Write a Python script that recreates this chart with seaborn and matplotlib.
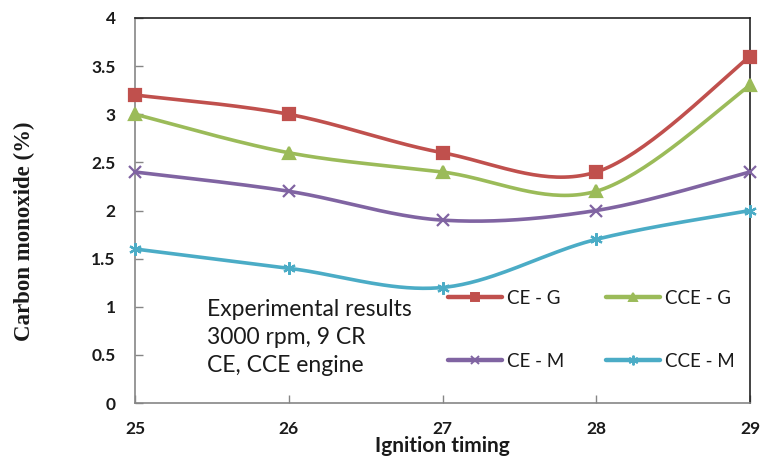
import numpy as np
import pandas as pd
import matplotlib
matplotlib.use("Agg")
import matplotlib.pyplot as plt
from matplotlib.lines import Line2D
import seaborn as sns

# Data
timing = [25, 26, 27, 28, 29]
ce_g = [3.2, 3.0, 2.6, 2.4, 3.6]
cce_g = [3.0, 2.6, 2.4, 2.2, 3.3]
ce_m = [2.4, 2.2, 1.9, 2.0, 2.4]
cce_m = [1.6, 1.4, 1.2, 1.7, 2.0]
series_names = ["CE - G", "CCE - G", "CE - M", "CCE - M"]
series_values = [ce_g, cce_g, ce_m, cce_m]
y_ticks = [0, 0.5, 1, 1.5, 2, 2.5, 3, 3.5, 4]
y_tick_labels = ["0", "0.5", "1", "1.5", "2", "2.5", "3", "3.5", "4"]

colors = ["#C0504D", "#9BBB59", "#8064A2", "#4BACC6"]
markers = ["s", "^", "x", (6, 2, 0)]
msizes = [8, 8, 8, 9]


def smooth(xs, ys, n=40):
    """Catmull-Rom style smoothing through every point (Bezier, 1/6 tangents)."""
    xs = np.asarray(xs, float)
    ys = np.asarray(ys, float)
    px = np.concatenate([[xs[0]], xs, [xs[-1]]])
    py = np.concatenate([[ys[0]], ys, [ys[-1]]])
    ox, oy = [], []
    t = np.linspace(0, 1, n)
    for i in range(1, len(px) - 2):
        p0 = np.array([px[i], py[i]])
        p3 = np.array([px[i + 1], py[i + 1]])
        c1 = p0 + (np.array([px[i + 1], py[i + 1]]) - np.array([px[i - 1], py[i - 1]])) / 6
        c2 = p3 - (np.array([px[i + 2], py[i + 2]]) - np.array([px[i], py[i]])) / 6
        b = ((1 - t) ** 3)[:, None] * p0 + (3 * (1 - t) ** 2 * t)[:, None] * c1 \
            + (3 * (1 - t) * t ** 2)[:, None] * c2 + (t ** 3)[:, None] * p3
        if i > 1:
            b = b[1:]
        ox.extend(b[:, 0])
        oy.extend(b[:, 1])
    return np.array(ox), np.array(oy)


frames = []
for name, vals in zip(series_names, series_values):
    sx, sy = smooth(timing, vals)
    frames.append(pd.DataFrame({"x": sx, "y": sy, "series": name}))
curves = pd.concat(frames, ignore_index=True)

sns.set_theme(style="white")
plt.rcParams["font.family"] = ["Lato", "DejaVu Sans"]
text_color = "#1a1a1a"

fig = plt.figure(figsize=(7.62, 4.62), dpi=100)
ax = fig.add_axes([135 / 762, 1 - 403 / 462, (750 - 135) / 762, (403 - 18) / 462])

sns.lineplot(data=curves, x="x", y="y", hue="series", hue_order=series_names,
             palette=colors, sort=False, estimator=None, units="series",
             linewidth=2.6, legend=False, ax=ax)
for name, vals, c, m, ms in zip(series_names, series_values, colors, markers, msizes):
    ax.plot(timing, vals, linestyle="none", marker=m, markersize=ms, color=c,
            markeredgecolor=c, markeredgewidth=1.6, clip_on=False, zorder=5)

ax.set_xlim(25, 29)
ax.set_ylim(0, 4)
ax.set_xticks(timing)
ax.set_xticklabels([str(t) for t in timing], fontweight="bold", fontsize=12.5,
                   color=text_color)
ax.set_yticks(y_ticks)
ax.set_yticklabels(y_tick_labels, fontweight="bold", fontsize=12.5, color=text_color)
ax.tick_params(axis="both", direction="in", length=6, width=1, color="#868686",
               bottom=True, left=True)
ax.tick_params(axis="x", pad=13)
ax.tick_params(axis="y", pad=14)

for side in ["left", "bottom"]:
    ax.spines[side].set_color("#868686")
    ax.spines[side].set_linewidth(1.2)
for side in ["top", "right"]:
    ax.spines[side].set_color("#222222")
    ax.spines[side].set_linewidth(1.2)

ax.set_xlabel("Ignition timing", fontweight="bold", fontsize=15, color=text_color)
ax.xaxis.set_label_coords(0.5, -0.086)
ax.xaxis.label.set_verticalalignment("top")
ax.set_ylabel("Carbon monoxide (%)", fontfamily="Liberation Serif", fontweight="bold",
              fontsize=16.5, color=text_color)
ax.yaxis.set_label_coords(-0.163, 0.445)

ax.text(0.117, 0.17, "Experimental results\n3000 rpm, 9 CR\nCE, CCE engine",
        transform=ax.transAxes, fontsize=16.5, linespacing=1.42, va="center", ha="left",
        color=text_color)

# two legend rows: (CE - G, CCE - G) on top, (CE - M, CCE - M) below
handles = [Line2D([0], [0], color=c, marker=m, markersize=ms - 2, linewidth=3.2,
                  markeredgewidth=1.4) for c, m, ms in zip(colors, markers, msizes)]
order = [0, 2, 1, 3]
ax.legend([handles[i] for i in order], [series_names[i] for i in order], ncol=2,
          loc="center left", bbox_to_anchor=(0.509, 0.19), frameon=False,
          fontsize=13.5, handlelength=2.9, handletextpad=0.25, columnspacing=2.2,
          labelspacing=2.45, borderaxespad=0, borderpad=0, labelcolor=text_color)

fig.savefig("out.png", dpi=100)
